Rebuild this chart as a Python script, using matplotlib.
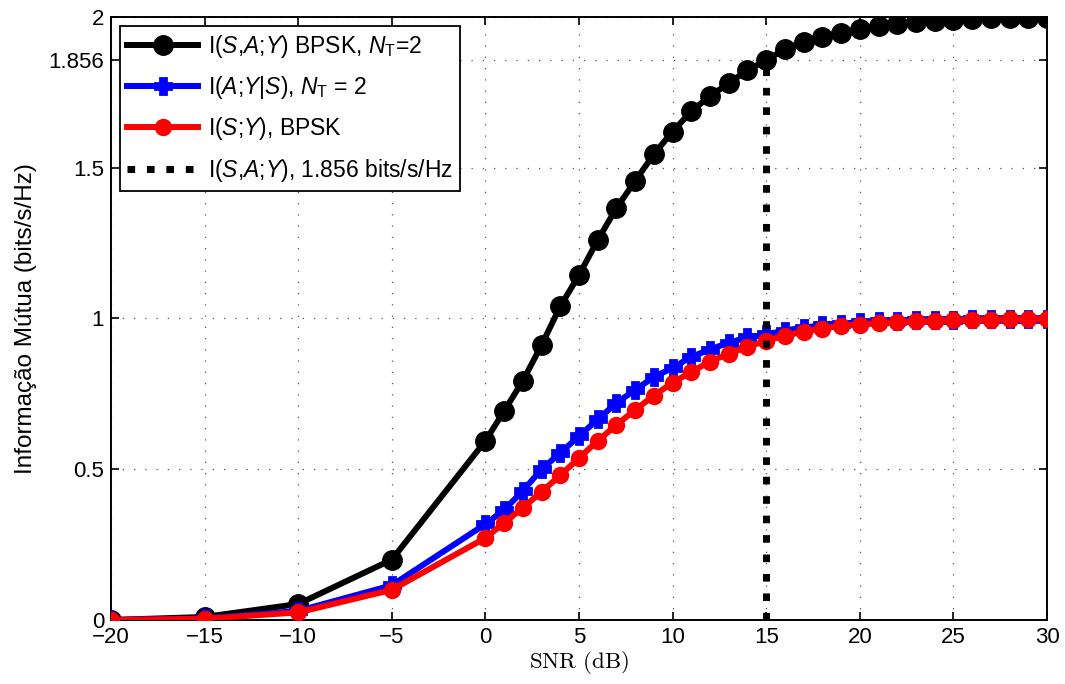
import matplotlib
matplotlib.use("Agg")
import matplotlib.pyplot as plt
import numpy as np

plt.rcParams['font.family'] = ['Liberation Sans', 'DejaVu Sans']
plt.rcParams['mathtext.fontset'] = 'custom'
plt.rcParams['mathtext.rm'] = 'Liberation Sans'
plt.rcParams['mathtext.it'] = 'Liberation Sans:italic'

snr = [-20, -15, -10, -5] + list(range(0, 31))

i_sa_y = [0.0, 0.01, 0.053, 0.2,
          0.594, 0.693, 0.793, 0.912, 1.04, 1.144, 1.26, 1.366, 1.456, 1.545,
          1.62, 1.687, 1.738, 1.78, 1.824, 1.856, 1.894, 1.917, 1.933, 1.947,
          1.96, 1.97, 1.977, 1.983, 1.987, 1.99, 1.993, 1.995, 1.996, 1.997, 1.998]

i_a_y_s = [0.0, 0.005, 0.03, 0.115,
           0.318, 0.365, 0.428, 0.5, 0.554, 0.61, 0.665, 0.72, 0.763, 0.806,
           0.836, 0.873, 0.897, 0.92, 0.937, 0.947, 0.96, 0.97, 0.977, 0.983,
           0.987, 0.99, 0.992, 0.994, 0.995, 0.996, 0.997, 0.998, 0.998, 0.999, 0.999]

i_s_y = [0.0, 0.004, 0.025, 0.1,
         0.272, 0.322, 0.372, 0.425, 0.48, 0.537, 0.594, 0.647, 0.697, 0.744,
         0.787, 0.823, 0.857, 0.883, 0.906, 0.926, 0.943, 0.956, 0.966, 0.976,
         0.98, 0.984, 0.987, 0.99, 0.992, 0.994, 0.995, 0.996, 0.997, 0.998, 0.998]

snr_mark = [15, 15]
cap_mark = [0, 1.856]

xticks = [-20, -15, -10, -5, 0, 5, 10, 15, 20, 25, 30]
yticks = [0, 0.5, 1, 1.5, 1.856, 2]
yticklabels = ['0', '0.5', '1', '1.5', '1.856', '2']

fig = plt.figure(figsize=(10.65, 6.84), dpi=100)
ax = fig.add_axes([0.1042, 0.0936, 0.8789, 0.8816])

ax.plot(snr, i_sa_y, color='black', lw=4.3, marker='o', ms=14, mfc='black', mec='black',
        label=r'I($\mathit{S}$,$\mathit{A}$;$\mathit{Y}$) BPSK, $\mathit{N}_{\mathrm{T}}$=2', zorder=3)
ax.plot(snr, i_a_y_s, color='blue', lw=4.3, marker='P', ms=11.5, mfc='blue', mec='blue', mew=2,
        label=r'I($\mathit{A}$;$\mathit{Y}$|$\mathit{S}$), $\mathit{N}_{\mathrm{T}}$ = 2', zorder=4)
ax.plot(snr, i_s_y, color='red', lw=4.3, marker='o', ms=11.5, mfc='red', mec='red',
        label=r'I($\mathit{S}$;$\mathit{Y}$), BPSK', zorder=5)
ax.plot(snr_mark, cap_mark, color='black', lw=5, linestyle=(0, (1.1, 1.7)),
        label=r'I($\mathit{S}$,$\mathit{A}$;$\mathit{Y}$), 1.856 bits/s/Hz', zorder=6)

ax.set_xlim(-20, 30)
ax.set_ylim(0, 2)
ax.set_xticks(xticks)
ax.set_xticklabels([str(t).replace('-', '\u2212') for t in xticks])
ax.set_yticks(yticks)
ax.set_yticklabels(yticklabels)
ax.tick_params(direction='in', top=True, right=True, labelsize=16, length=5.5, width=1.2)
ax.tick_params(axis='y', pad=5)
ax.tick_params(axis='x', pad=5)
ax.grid(True, linestyle=(0, (1, 8)), color='#555555', lw=0.9)
for s in ax.spines.values():
    s.set_linewidth(1.4)

ax.set_xlabel(r'$\mathrm{SNR\ (dB)}$', math_fontfamily='cm', fontsize=16.5, labelpad=1)
ax.set_ylabel('Informação Mútua (bits/s/Hz)', fontsize=17.5, labelpad=8)

leg = ax.legend(loc='upper left', fontsize=16.5, handlelength=3.1, framealpha=1,
                fancybox=False, edgecolor='black', borderaxespad=0.4, labelspacing=0.62,
                handletextpad=0.45, borderpad=0.3)
leg.get_frame().set_linewidth(1.3)

fig.savefig('out.png', dpi=100)
